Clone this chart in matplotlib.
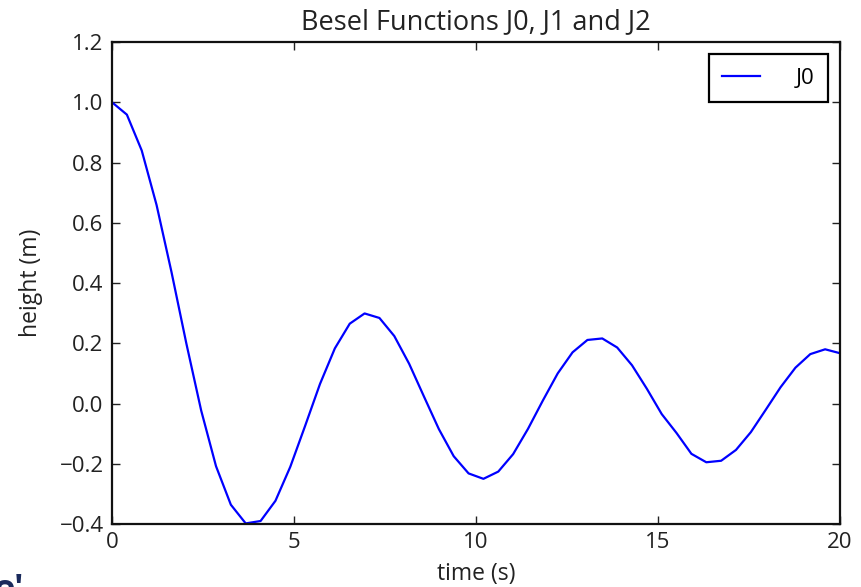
import matplotlib
matplotlib.use("Agg")
import matplotlib.pyplot as plt

plt.rcParams['font.family'] = ['Open Sans', 'DejaVu Sans']

# sample times and J0 values
t = [0.000, 0.408, 0.816, 1.224, 1.633, 2.041, 2.449, 2.857, 3.265, 3.673,
     4.082, 4.490, 4.898, 5.306, 5.714, 6.122, 6.531, 6.939, 7.347, 7.755,
     8.163, 8.571, 8.980, 9.388, 9.796, 10.204, 10.612, 11.020, 11.429, 11.837,
     12.245, 12.653, 13.061, 13.469, 13.878, 14.286, 14.694, 15.102, 15.510, 15.918,
     16.327, 16.735, 17.143, 17.551, 17.959, 18.367, 18.776, 19.184, 19.592, 20.000]
j0 = [1.000, 0.959, 0.840, 0.659, 0.437, 0.200, -0.023, -0.208, -0.336, -0.398,
      -0.390, -0.323, -0.210, -0.074, 0.065, 0.183, 0.265, 0.299, 0.284, 0.224,
      0.132, 0.023, -0.085, -0.175, -0.232, -0.250, -0.226, -0.168, -0.084, 0.010,
      0.100, 0.170, 0.211, 0.216, 0.186, 0.127, 0.049, -0.035, -0.098, -0.167,
      -0.195, -0.190, -0.154, -0.095, -0.021, 0.054, 0.119, 0.164, 0.180, 0.167]

series_label = "J0"
xticks = [0, 5, 10, 15, 20]
yticks = [-0.4, -0.2, 0.0, 0.2, 0.4, 0.6, 0.8, 1.0, 1.2]

fig = plt.figure(figsize=(8.61, 5.87), dpi=100)
ax = fig.add_axes([0.1301, 0.1073, 0.8455, 0.8211])

ax.plot(t, j0, color='#0000ff', lw=1.6, label=series_label)

ax.set_xlim(0, 20)
ax.set_ylim(-0.4, 1.2)
ax.set_xticks(xticks)
ax.set_yticks(yticks)
ax.set_xticklabels([str(v) for v in xticks])
ax.set_yticklabels(['\u2212%.1f' % abs(v) if v < 0 else '%.1f' % v for v in yticks])

ax.tick_params(direction='in', top=True, right=True, length=6, width=1,
               labelsize=16, pad=6, colors='#222222')
for s in ax.spines.values():
    s.set_linewidth(1.6)
    s.set_color('#111111')

ax.set_title("Besel Functions J0, J1 and J2", fontsize=19.5, pad=9.5, color='#222222')
ax.set_xlabel("time (s)", fontsize=16.5, labelpad=6, color='#222222')
ax.set_ylabel("height (m)", fontsize=16.5, labelpad=12, color='#222222')

leg = ax.legend(loc='upper right', fontsize=16, fancybox=False, framealpha=1,
                edgecolor='black', handlelength=1.7, handletextpad=1.6,
                borderaxespad=0.55, borderpad=0.6)
leg.get_frame().set_linewidth(1.6)

# cropped fragment of page text in the screenshot corner
fig.text(-0.008, -0.022, "e'", fontsize=26, fontweight='bold', color='#1a2a5c')

fig.savefig("out.png", dpi=100)
